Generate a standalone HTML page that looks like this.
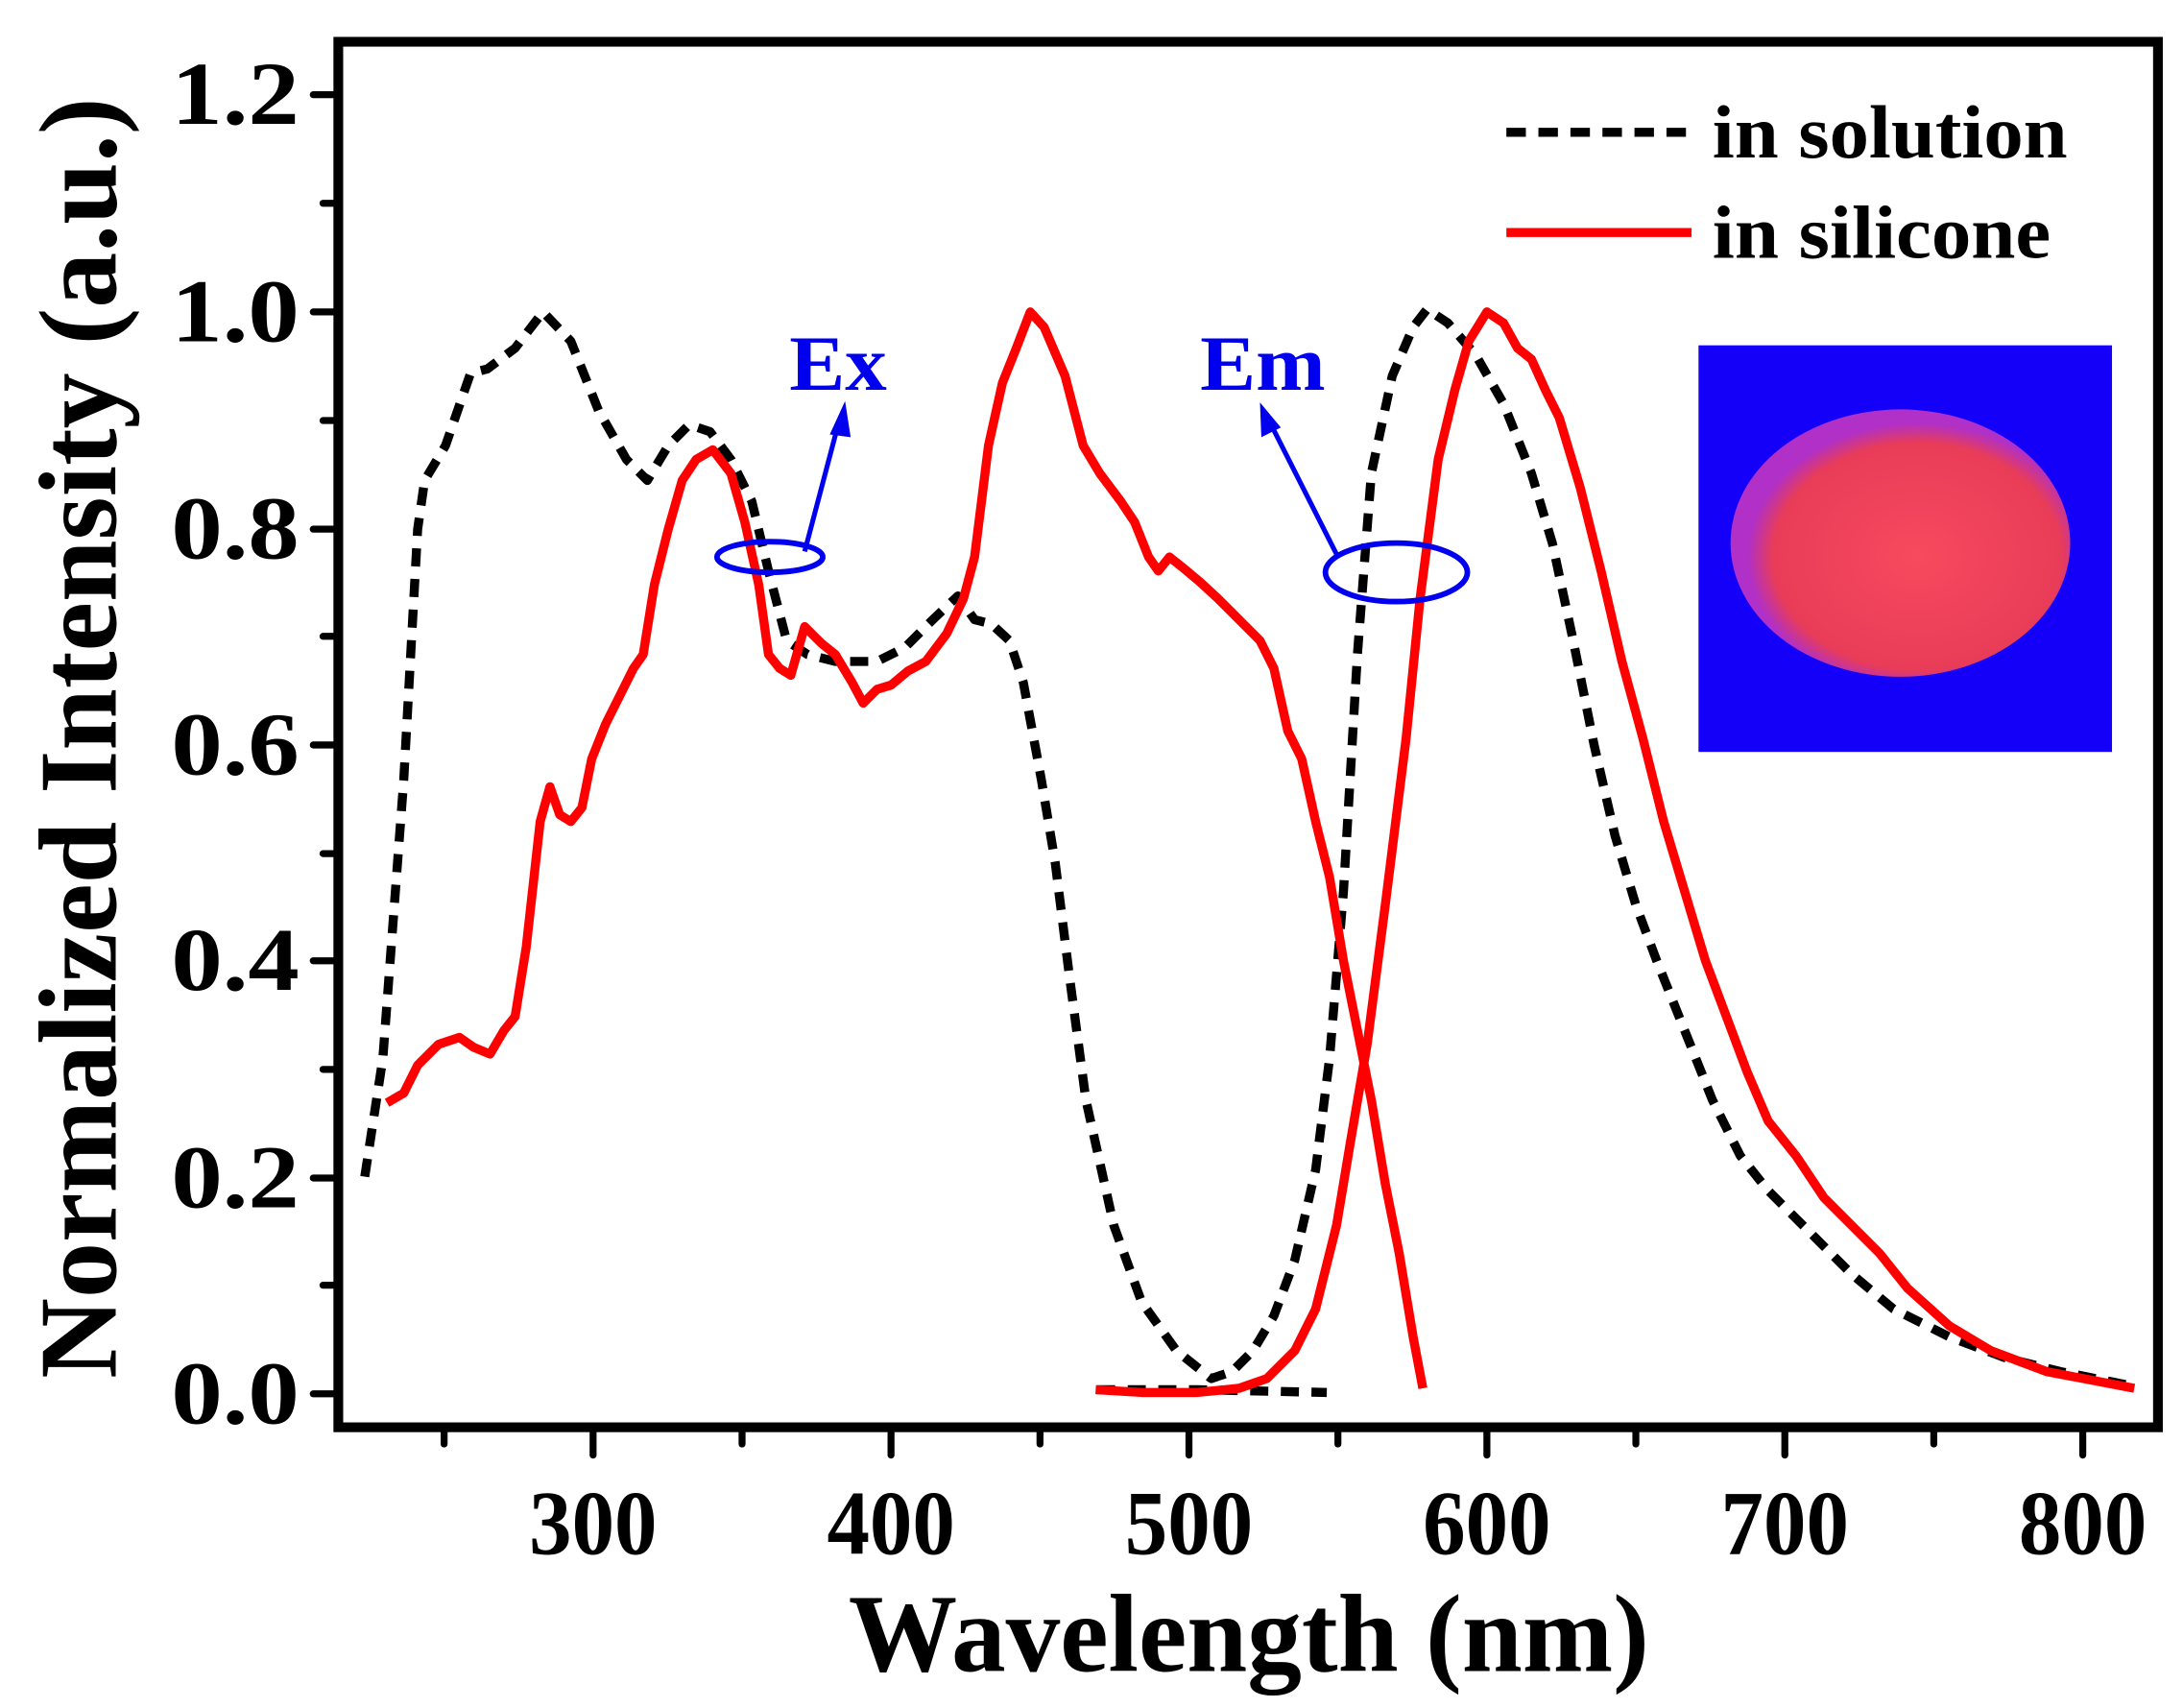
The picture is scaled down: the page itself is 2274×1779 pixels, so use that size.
<!DOCTYPE html>
<html><head><style>html,body{margin:0;padding:0;background:#fff}svg{display:block}</style></head>
<body>
<svg width="2274" height="1779" viewBox="0 0 1568 1226.6" preserveAspectRatio="none" xmlns="http://www.w3.org/2000/svg" font-family="Liberation Serif, serif" font-weight="bold">
<defs><radialGradient id="g" cx="0.55" cy="0.55" r="0.5"><stop offset="0" stop-color="#f84a5e"/><stop offset="0.85" stop-color="#e83c58"/><stop offset="1" stop-color="#b030c8"/></radialGradient></defs>
<rect x="1220" y="248" width="297" height="292" fill="#1400f8"/>
<ellipse cx="1365" cy="390" rx="122" ry="96" fill="url(#g)"/>
<rect x="243" y="30" width="1307" height="995" fill="none" stroke="#000" stroke-width="7"/>
<g stroke="#000" stroke-width="5" stroke-linecap="round">
<line x1="225" y1="1001" x2="243" y2="1001"/><line x1="225" y1="846" x2="243" y2="846"/><line x1="225" y1="690" x2="243" y2="690"/><line x1="225" y1="535" x2="243" y2="535"/><line x1="225" y1="380" x2="243" y2="380"/><line x1="225" y1="224" x2="243" y2="224"/><line x1="225" y1="68" x2="243" y2="68"/>
<line x1="232" y1="923" x2="243" y2="923"/><line x1="232" y1="768" x2="243" y2="768"/><line x1="232" y1="613" x2="243" y2="613"/><line x1="232" y1="457" x2="243" y2="457"/><line x1="232" y1="302" x2="243" y2="302"/><line x1="232" y1="146" x2="243" y2="146"/>
<line x1="426" y1="1025" x2="426" y2="1045"/><line x1="640" y1="1025" x2="640" y2="1045"/><line x1="854" y1="1025" x2="854" y2="1045"/><line x1="1068" y1="1025" x2="1068" y2="1045"/><line x1="1282" y1="1025" x2="1282" y2="1045"/><line x1="1496" y1="1025" x2="1496" y2="1045"/>
<line x1="319" y1="1025" x2="319" y2="1037"/><line x1="533" y1="1025" x2="533" y2="1037"/><line x1="747" y1="1025" x2="747" y2="1037"/><line x1="961" y1="1025" x2="961" y2="1037"/><line x1="1175" y1="1025" x2="1175" y2="1037"/><line x1="1389" y1="1025" x2="1389" y2="1037"/>
</g>
<g font-size="64" text-anchor="end">
<text x="215" y="1022" textLength="92" lengthAdjust="spacingAndGlyphs">0.0</text>
<text x="215" y="867" textLength="92" lengthAdjust="spacingAndGlyphs">0.2</text>
<text x="215" y="711" textLength="92" lengthAdjust="spacingAndGlyphs">0.4</text>
<text x="215" y="556" textLength="92" lengthAdjust="spacingAndGlyphs">0.6</text>
<text x="215" y="401" textLength="92" lengthAdjust="spacingAndGlyphs">0.8</text>
<text x="215" y="245" textLength="92" lengthAdjust="spacingAndGlyphs">1.0</text>
<text x="215" y="89" textLength="92" lengthAdjust="spacingAndGlyphs">1.2</text>
</g>
<g font-size="66" text-anchor="middle">
<text x="426" y="1116" textLength="92" lengthAdjust="spacingAndGlyphs">300</text>
<text x="640" y="1116" textLength="92" lengthAdjust="spacingAndGlyphs">400</text>
<text x="854" y="1116" textLength="92" lengthAdjust="spacingAndGlyphs">500</text>
<text x="1068" y="1116" textLength="92" lengthAdjust="spacingAndGlyphs">600</text>
<text x="1282" y="1116" textLength="92" lengthAdjust="spacingAndGlyphs">700</text>
<text x="1496" y="1116" textLength="92" lengthAdjust="spacingAndGlyphs">800</text>
</g>
<text x="897" y="1200" font-size="80" text-anchor="middle" textLength="575" lengthAdjust="spacingAndGlyphs">Wavelength (nm)</text>
<text transform="translate(83,530) rotate(-90)" font-size="80" text-anchor="middle" textLength="920" lengthAdjust="spacingAndGlyphs">Normalized Intensity (a.u.)</text>
<line x1="1082" y1="95" x2="1215" y2="95" stroke="#000" stroke-width="6.5" stroke-dasharray="14,9"/>
<line x1="1082" y1="167" x2="1215" y2="167" stroke="#f00" stroke-width="6.5"/>
<text x="1230" y="113" font-size="54" textLength="255" lengthAdjust="spacingAndGlyphs">in solution</text>
<text x="1230" y="185" font-size="54" textLength="243" lengthAdjust="spacingAndGlyphs">in silicone</text>
<g fill="none" stroke-width="6.5" stroke-linejoin="round">
<polyline stroke="#000" stroke-dasharray="13,9" points="262,845 275,760 290,560 300,380 305,345 320,320 338,268 350,265 370,250 390,224 410,245 430,295 450,330 465,345 480,320 495,305 510,310 525,330 540,360 552,410 565,460 580,470 600,475 630,475 650,465 670,445 688,428 700,445 712,448 725,460 735,490 748,560 758,620 768,700 780,790 800,880 820,935 845,970 870,990 885,985 900,970 915,945 930,905 945,840 955,760 965,640 975,470 985,340 1000,270 1015,235 1025,222 1040,232 1060,255 1080,290 1100,340 1115,390 1130,460 1145,535 1160,600 1175,650 1190,690 1210,740 1230,790 1250,830 1270,855 1300,885 1330,915 1360,940 1400,960 1440,975 1480,985 1530,995"/>
<polyline stroke="#000" stroke-dasharray="13,9" points="788,998 860,998 953,1000"/>
<polyline stroke="#f00" points="278,792 290,785 300,765 315,750 330,745 340,752 352,757 362,740 370,730 378,680 388,590 395,565 402,585 410,590 418,580 425,545 435,520 445,500 455,480 462,470 470,420 480,380 490,345 500,330 512,323 525,340 535,375 545,420 552,470 560,480 568,485 578,450 590,462 600,470 612,490 620,505 630,495 640,492 652,482 665,475 680,455 692,430 700,400 710,320 720,275 730,250 740,224 750,235 765,270 778,320 790,340 805,360 815,375 825,400 832,410 840,400 850,408 862,418 875,430 890,445 905,460 915,480 925,525 935,545 945,590 955,630 965,690 975,740 985,790 995,850 1005,900 1015,960 1022,997"/>
<polyline stroke="#f00" points="787,998 820,1000 860,1000 890,997 910,990 930,970 945,940 960,880 970,820 982,750 995,650 1010,530 1020,430 1033,330 1045,280 1055,245 1068,224 1080,232 1090,250 1100,258 1110,280 1120,300 1135,350 1150,410 1165,475 1180,530 1195,590 1210,640 1225,690 1240,730 1255,770 1270,805 1290,830 1310,860 1330,880 1350,900 1370,925 1400,952 1430,970 1470,985 1533,997"/>
</g>
<g fill="#0000ee" stroke="#0000ee">
<ellipse cx="553" cy="400" rx="38" ry="11" fill="none" stroke-width="4"/>
<ellipse cx="1003" cy="411" rx="51" ry="21" fill="none" stroke-width="4"/>
<line x1="578" y1="396" x2="602" y2="305" stroke-width="3.5"/>
<polygon points="607,288 596,312 611,314" stroke="none"/>
<line x1="960" y1="398" x2="913" y2="305" stroke-width="3.5"/>
<polygon points="905,289 906,314 920,307" stroke="none"/>
</g>
<text x="567" y="280" font-size="56" fill="#0000ee" textLength="70" lengthAdjust="spacingAndGlyphs">Ex</text>
<text x="862" y="280" font-size="56" fill="#0000ee" textLength="90" lengthAdjust="spacingAndGlyphs">Em</text>
</svg>
</body></html>
